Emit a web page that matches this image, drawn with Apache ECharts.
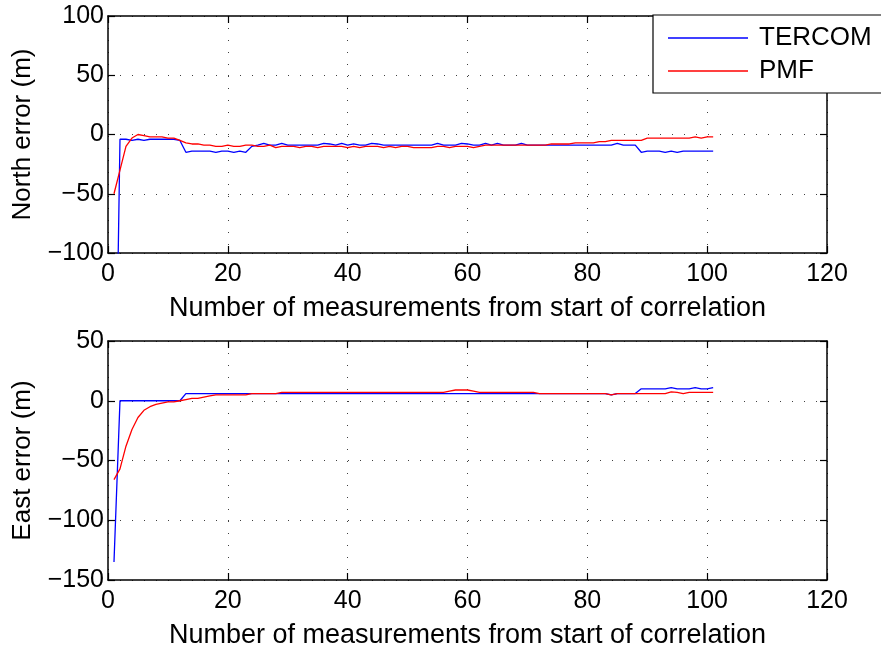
<!DOCTYPE html>
<html>
<head>
<meta charset="utf-8">
<script src="https://cdn.jsdelivr.net/npm/echarts@6/dist/echarts.min.js"></script>
<style>
html,body{margin:0;padding:0;background:#fff;}
#chart{width:881px;height:651px;}
</style>
</head>
<body>
<div id="chart"></div>
<script>
// ---- data (measurement index 1..101) ----
const seriesNames = ['TERCOM', 'PMF'];
const xTicks = [0, 20, 40, 60, 80, 100, 120];
const northTicks = [-100, -50, 0, 50, 100];
const eastTicks = [-150, -100, -50, 0, 50];

const northTercom = [
  -330, -4, -4, -5, -4, -5, -4, -4, -4, -4,
  -4, -5, -15, -14, -14, -14, -14, -15, -14, -14,
  -15, -14, -15, -10, -9, -7.5, -9, -9, -7.5, -9,
  -9, -9, -9, -9, -9, -7.5, -8, -9, -7.5, -9,
  -8, -9, -9, -7.5, -8, -9, -9, -9, -9, -9,
  -9, -9, -9, -9, -7.5, -9, -9, -9, -7.5, -8,
  -9, -9, -7.5, -9, -7.5, -9, -9, -9, -7.5, -9,
  -9, -9, -9, -9, -9, -9, -9, -9, -9, -9,
  -9, -9, -9, -9, -7.5, -9, -9, -9, -15, -14,
  -14, -14, -15, -14, -15, -14, -14, -14, -14, -14,
  -14
];
const northPmf = [
  -50, -30, -10, -3, 0, -1, -2, -2, -2, -3,
  -3, -5, -7, -8, -8, -9, -9, -10, -10, -9,
  -10, -10, -9, -9, -10, -10, -9, -11, -10, -10,
  -10, -11, -10, -10, -11, -10, -10, -10, -10, -11,
  -10, -11, -10, -10, -10, -11, -10, -11, -10, -10,
  -11, -11, -11, -11, -10, -10, -11, -10, -10, -10,
  -11, -10, -9, -9, -9, -9, -9, -9, -9, -9,
  -9, -9, -9, -8, -8, -8, -8, -7, -7, -7,
  -7, -6, -6, -5, -5, -5, -5, -5, -5, -3,
  -3, -3, -3, -3, -3, -3, -3, -2, -3, -2,
  -2
];
const eastTercom = [
  -135, 0, 0, 0, 0, 0, 0, 0, 0, 0,
  0, 0, 6, 6, 6, 6, 6, 6, 6, 6,
  6, 6, 6, 6, 6, 6, 6, 6, 6, 6,
  6, 6, 6, 6, 6, 6, 6, 6, 6, 6,
  6, 6, 6, 6, 6, 6, 6, 6, 6, 6,
  6, 6, 6, 6, 6, 6, 6, 6, 6, 6,
  6, 6, 6, 6, 6, 6, 6, 6, 6, 6,
  6, 6, 6, 6, 6, 6, 6, 6, 6, 6,
  6, 6, 6, 5, 6, 6, 6, 6, 10, 10,
  10, 10, 10, 11, 10, 10, 10, 11, 10, 10,
  11
];
const eastPmf = [
  -66, -57, -38, -24, -14, -8, -5, -3, -2, -1,
  -1, 0, 1, 2, 2, 3, 4, 5, 5, 5,
  5, 5, 5, 6, 6, 6, 6, 6, 7, 7,
  7, 7, 7, 7, 7, 7, 7, 7, 7, 7,
  7, 7, 7, 7, 7, 7, 7, 7, 7, 7,
  7, 7, 7, 7, 7, 7, 8, 9, 9, 9,
  8, 7, 7, 7, 7, 7, 7, 7, 7, 7,
  7, 6, 6, 6, 6, 6, 6, 6, 6, 6,
  6, 6, 6, 5, 6, 6, 6, 6, 6, 6,
  6, 6, 6, 7.5, 7, 6, 7, 7, 7, 7,
  7
];

function pairs(vals) { return vals.map((v, i) => [i + 1, v]); }
function fmt(v) { return v < 0 ? '\u2212' + Math.abs(v) : String(v); }

const FONT = 'Liberation Sans, Arial, Helvetica, sans-serif';
const FS = 25;
const dotted = { show: true, lineStyle: { color: '#000', width: 1, type: [1, 11], opacity: 0.75 } };
const axLine = { show: true, onZero: false, lineStyle: { color: '#000', width: 1.5 } };
const tickIn = { show: true, inside: true, length: 7, lineStyle: { color: '#000', width: 1.2 } };

function xMain(g, name) {
  return {
    type: 'value', gridIndex: g, position: 'bottom', min: xTicks[0], max: xTicks[xTicks.length - 1],
    interval: xTicks[1] - xTicks[0],
    axisLine: axLine, axisTick: tickIn, splitLine: dotted,
    axisLabel: { color: '#000', fontSize: FS, fontFamily: FONT, margin: 9, formatter: fmt },
    name: name, nameLocation: 'middle', nameGap: 42,
    nameTextStyle: { color: '#000', fontSize: 27, fontFamily: FONT }
  };
}
function xTop(g) {
  return {
    type: 'value', gridIndex: g, position: 'top', min: xTicks[0], max: xTicks[xTicks.length - 1],
    interval: xTicks[1] - xTicks[0],
    axisLine: axLine, axisTick: tickIn, splitLine: { show: false }, axisLabel: { show: false }
  };
}
function yMain(g, ticks, name) {
  return {
    type: 'value', gridIndex: g, position: 'left', min: ticks[0], max: ticks[ticks.length - 1],
    interval: ticks[1] - ticks[0],
    axisLine: axLine, axisTick: tickIn, splitLine: dotted,
    axisLabel: { color: '#000', fontSize: FS, fontFamily: FONT, margin: 4, formatter: fmt },
    name: name, nameLocation: 'middle', nameGap: 72, nameRotate: 90,
    nameTextStyle: { color: '#000', fontSize: 26, fontFamily: FONT }
  };
}
function yRight(g, ticks) {
  return {
    type: 'value', gridIndex: g, position: 'right', min: ticks[0], max: ticks[ticks.length - 1],
    interval: ticks[1] - ticks[0],
    axisLine: axLine, axisTick: tickIn, splitLine: { show: false }, axisLabel: { show: false }
  };
}
function line(name, color, vals, xi, yi) {
  return {
    name: name, type: 'line', xAxisIndex: xi, yAxisIndex: yi, data: pairs(vals),
    symbol: 'none', showSymbol: false, clip: true, animation: false,
    lineStyle: { color: color, width: 1.3 }, itemStyle: { color: color }
  };
}

const xName = 'Number of measurements from start of correlation';
const chart = echarts.init(document.getElementById('chart'), null, { renderer: 'canvas' });
chart.setOption({
  animation: false,
  backgroundColor: '#fff',
  textStyle: { fontFamily: FONT },
  grid: [
    { left: 108, top: 16, width: 719, height: 237 },
    { left: 108, top: 341, width: 719, height: 239 }
  ],
  xAxis: [xMain(0, xName), xTop(0), xMain(1, xName), xTop(1)],
  yAxis: [yMain(0, northTicks, 'North error (m)'), yRight(0, northTicks),
          yMain(1, eastTicks, 'East error (m)'), yRight(1, eastTicks)],
  legend: {
    data: seriesNames, orient: 'vertical', left: 653, top: 15,
    backgroundColor: '#fff', borderColor: '#000', borderWidth: 1.2, borderRadius: 0,
    padding: [10, 10, 9, 15], itemWidth: 80, itemHeight: 1.6, itemGap: 7, icon: 'rect',
    textStyle: { color: '#000', fontSize: 26, fontFamily: FONT, padding: [0, 0, 0, 6] }
  },
  series: [
    line(seriesNames[0], '#0000ff', northTercom, 0, 0),
    line(seriesNames[1], '#ff0000', northPmf, 0, 0),
    line(seriesNames[0], '#0000ff', eastTercom, 2, 2),
    line(seriesNames[1], '#ff0000', eastPmf, 2, 2)
  ]
});
</script>
</body>
</html>
